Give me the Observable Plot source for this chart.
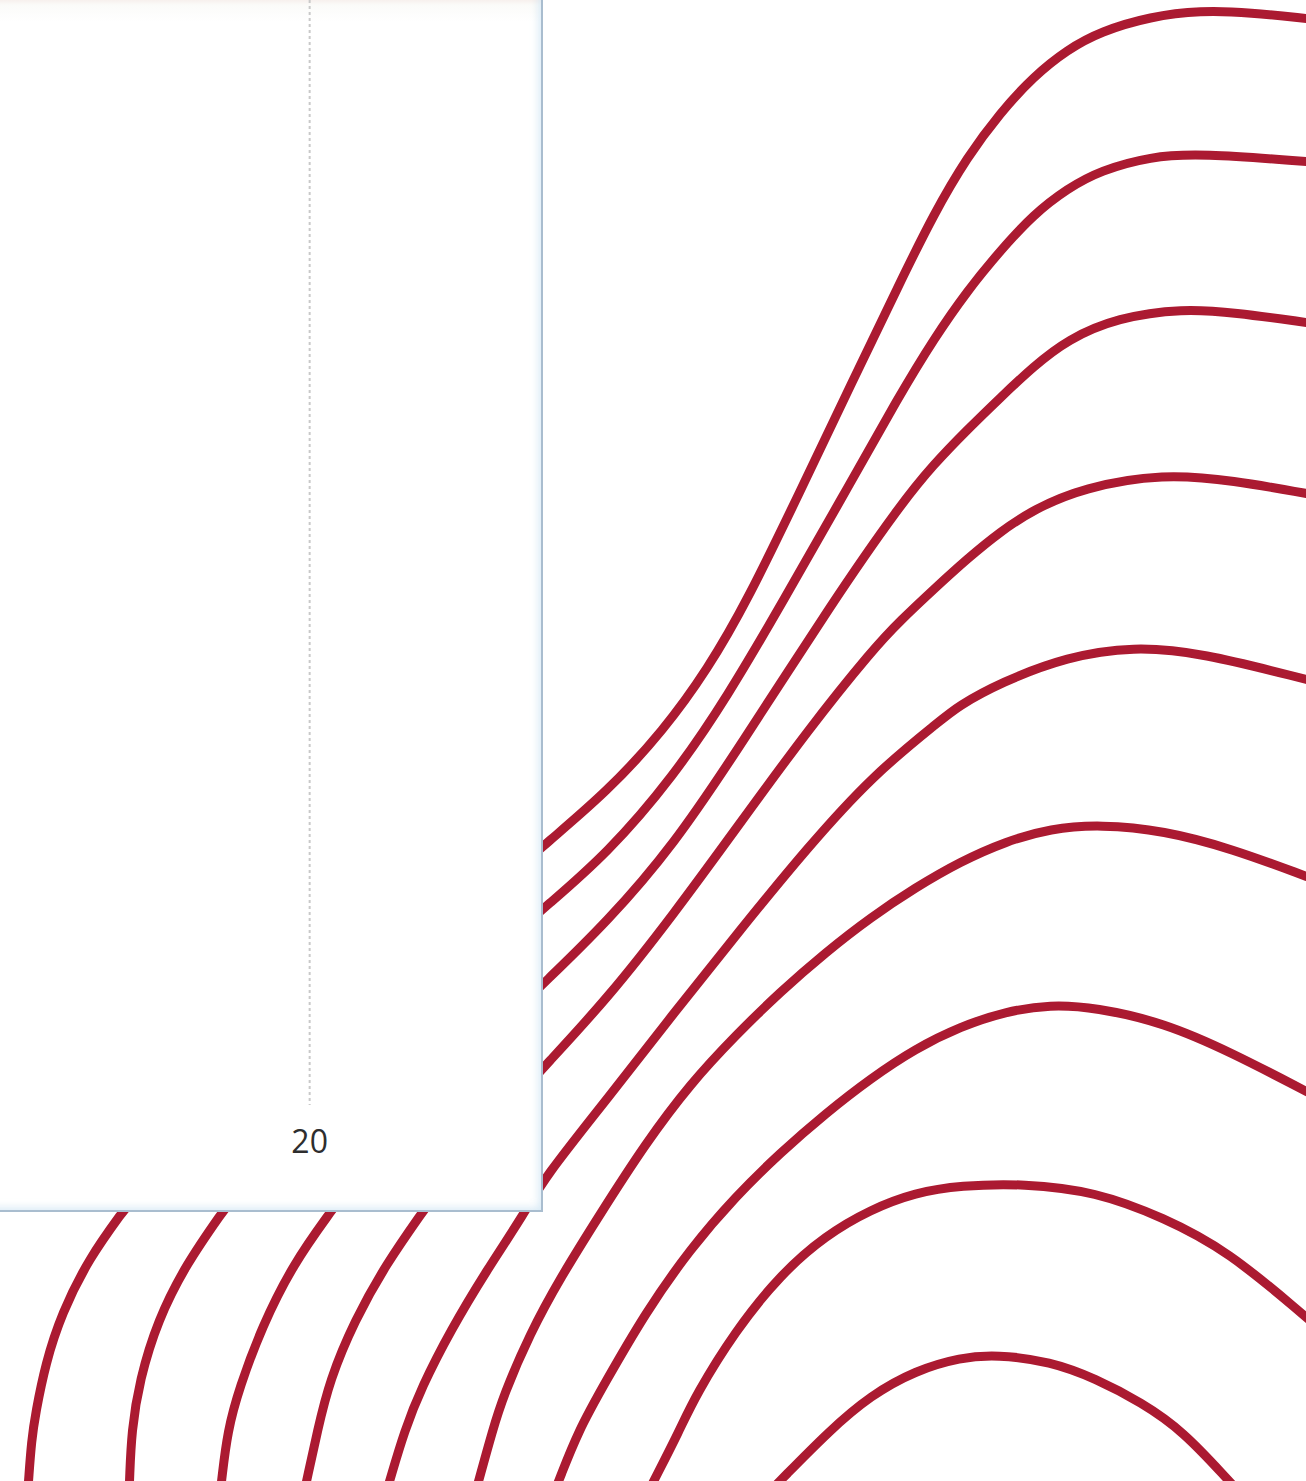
<!DOCTYPE html>
<html>
<head>
<meta charset="utf-8">
<script src="https://cdn.jsdelivr.net/npm/d3@7"></script>
<script src="https://cdn.jsdelivr.net/npm/@observablehq/plot@0.6"></script>
<style>
  html, body { margin: 0; padding: 0; background: #fff; }
  #wrap { position: relative; width: 1306px; height: 1481px; overflow: hidden; background: #fff; }
  #bg { position: absolute; left: 0; top: 0; }
  #panel {
    position: absolute; left: 0; top: 0; width: 541px; height: 1210px;
    background: linear-gradient(to bottom, #f7f0ed 0px, #fbfbf9 5px, #ffffff 22px);
    border-right: 2px solid #a9bdcf; border-bottom: 2px solid #a9bdcf;
    box-shadow: inset -7px -7px 8px -5px rgba(205,228,242,0.8);
  }
  #panel svg { position: absolute; left: 0; top: 0; }
</style>
</head>
<body>
<div id="wrap"><div id="bg"></div><div id="panel"></div></div>
<script>
// Background curves (x, y in picture units)
const curve1 = [[1306,18],[1250,12],[1200,10],[1150,16],[1100,31],[1067,49],[1033,76],[1000,112],[967,156],[933,214],[900,281],[850,385],[800,490],[747,600],[707,669],[663,730],[607,791],[543,845],[520,866],[140,1187],[121,1213],[89,1257],[61,1313],[45,1363],[35,1413],[31,1440],[28,1481]];
const curve2 = [[1306,161],[1200,153],[1150,156],[1100,170],[1067,188],[1033,214],[1000,250],[967,290],[933,339],[900,393],[840,500],[783,600],[727,696],[673,776],[607,853],[543,908],[520,928],[240,1186],[221,1213],[186,1263],[157,1320],[139,1380],[131,1430],[129,1481]];
const curve3 = [[1306,322],[1233,312],[1183,308],[1117,317],[1067,339],[1033,366],[1000,397],[967,429],[933,464],[900,504],[833,600],[740,745],[673,845],[607,921],[543,983],[520,1005],[348,1187],[329,1213],[293,1263],[261,1327],[239,1387],[227,1430],[221,1481]];
const curve4 = [[1306,493],[1233,480],[1163,473],[1083,487],[1033,509],[1000,531],[967,558],[933,589],[900,620],[873,648],[807,730],[740,822],[673,914],[607,998],[543,1067],[522,1090],[440,1186],[421,1213],[386,1263],[354,1320],[329,1380],[317,1430],[306,1481]];
const curve5 = [[1306,679],[1200,652],[1133,646],[1067,656],[1000,682],[957,706],[940,720],[873,774],[807,847],[740,929],[673,1013],[607,1098],[543,1178],[524,1213],[486,1270],[450,1330],[421,1387],[404,1430],[389,1481]];
const curve6 = [[1306,876],[1231,848],[1163,830],[1100,824],[1050,828],[1005,841],[960,861],[915,887],[870,917],[825,952],[780,991],[735,1035],[690,1083],[645,1143],[600,1213],[560,1277],[529,1334],[503,1395],[492,1430],[478,1481]];
const curve7 = [[1306,1091],[1231,1052],[1163,1022],[1095,1007],[1050,1004],[1005,1011],[960,1026],[915,1048],[870,1078],[825,1113],[780,1152],[735,1196],[690,1248],[645,1312],[603,1385],[578,1430],[558,1481]];
const curve8 = [[1306,1317],[1227,1250],[1163,1217],[1095,1191],[1023,1183],[960,1185],[915,1192],[870,1209],[825,1235],[780,1274],[735,1330],[695,1395],[679,1430],[653,1481]];
const curve9 = [[1229,1481],[1182,1430],[1141,1402],[1095,1378],[1050,1361],[996,1354],[960,1357],[915,1370],[870,1395],[829,1430],[779,1481]];

const curves = [curve1, curve2, curve3, curve4, curve5, curve6, curve7, curve8, curve9];

// Panel chart: x axis with one tick
const panelDomain = [0, 35];
const panelTicks = [20];

const rows = curves.flatMap((c, i) => c.map(([x, y]) => ({curve: i + 1, x, y})));

const bg = Plot.plot({
  width: 1306, height: 1481,
  marginTop: 0, marginRight: 0, marginBottom: 0, marginLeft: 0,
  x: {domain: [0, 1306], axis: null},
  y: {domain: [0, 1481], reverse: true, axis: null},
  marks: [
    Plot.line(rows, {x: "x", y: "y", z: "curve", stroke: "#ab1a31", strokeWidth: 9, curve: "basis", strokeLinecap: "square"})
  ]
});
document.getElementById("bg").appendChild(bg);

const panel = Plot.plot({
  width: 541, height: 1210,
  marginTop: 0, marginRight: 0, marginBottom: 105, marginLeft: 0,
  style: {background: "transparent", fontFamily: "'Open Sans', 'Noto Sans', sans-serif", fontSize: "32px", color: "#2e2e2e"},
  x: {domain: panelDomain, label: null},
  y: {axis: null},
  marks: [
    Plot.gridX(panelTicks, {stroke: "#c9c9c9", strokeOpacity: 1, strokeWidth: 2, strokeDasharray: "3,3"}),
    Plot.axisX(panelTicks, {tickSize: 0, tickPadding: 25, fontSize: 32, fill: "#2e2e2e"})
  ]
});
document.getElementById("panel").appendChild(panel);
</script>
</body>
</html>
